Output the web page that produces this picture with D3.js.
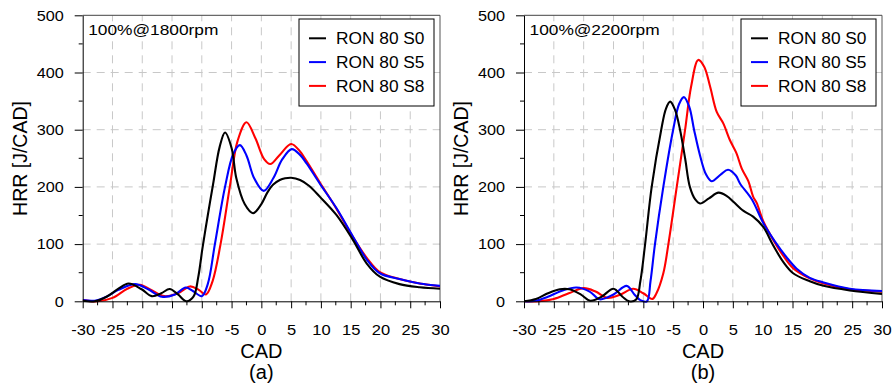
<!DOCTYPE html>
<html><head><meta charset="utf-8">
<script src="https://cdn.jsdelivr.net/npm/d3@7"></script>
<style>
body{margin:0;background:#fff}
svg{display:block}
text{font-family:"Liberation Sans",Arial,Helvetica,sans-serif;fill:#000}
</style>
</head><body><svg id="c" width="893" height="387"></svg>
<script>
// ---------------- data ----------------
const xTicks = [-30,-25,-20,-15,-10,-5,0,5,10,15,20,25,30];
const xMinor = [-27.5,-22.5,-17.5,-12.5,-7.5,-2.5,2.5,7.5,12.5,17.5,22.5,27.5];
const yTicks = [0,100,200,300,400,500];
const yMinor = [50,150,250,350,450];
const seriesNames = ["RON 80 S0","RON 80 S5","RON 80 S8"];
const seriesColors = ["#000000","#0000ff","#ff0000"];
const panelTitles = ["100%@1800rpm","100%@2200rpm"];
const panelLetters = ["(a)","(b)"];

// panel (a) 1800 rpm
const cadA_S0 = [-30,-28,-26,-24,-22.3,-20.1,-18.4,-16.8,-15.4,-14,-12.6,-11.4,-10.6,-9.9,-9,-8.1,-7,-6.1,-5,-4.2,-2.8,-1.4,0,1,2,3.1,4,5,6.5,8,9.8,12.6,15.4,17.7,19.9,23.2,26.6,30];
const hrrA_S0 = [1,0,8,22,31,21,9,14,21.5,12,0,8,42,92,150,205,270,295,268,215,170,154,170,190,204,212,215,216,212,202,183,151,107,66,43,30,24.5,22];
const cadA_S5 = [-30,-28,-26,-24,-21.2,-19,-16.7,-14.5,-12.7,-11.5,-10,-9,-7.8,-6.1,-4.7,-3.6,-2.5,-1.2,0.4,2,3.5,5.1,6.5,7.6,9.8,12.6,15.4,17.7,19.9,23.2,26.6,30];
const hrrA_S5 = [2,1,8,20,30,21,8,12,24,18,9,30,100,200,258,273,255,215,193,215,248,266,256,241,206,163,113,73,49,39,31,27];
const cadA_S8 = [-30,-27.5,-25,-22.5,-20.4,-18.5,-16.3,-14,-12,-10.5,-9.3,-8.2,-6.85,-5.3,-4,-2.5,-1,0.5,1.5,3,5,6.5,7.6,9.8,12.6,15.4,17.7,19.9,23.2,26.6,30];
const hrrA_S8 = [2,0,6,22,29,20,9,14,26,20,12,35,100,200,280,313,285,248,240,255,275,262,245,208,162,112,76,51,39,31,26];

// panel (b) 2200 rpm
const cadB_S0 = [-30,-28,-26,-24,-22.4,-20.5,-18.9,-17,-15,-13.5,-12.4,-11.2,-10.5,-9.7,-8.6,-7,-6.2,-5.5,-4.7,-3.85,-3,-2.2,-1.3,-0.5,1,2.6,4,5.1,6.8,8.4,10.1,11.8,13.5,15.1,17.9,20.2,24.6,30];
const hrrB_S0 = [0,4,14,21,21,12,1,8,22,8,0,3,35,100,200,300,337,349,335,300,250,200,178,171,180,190,184,174,158,148,130,97,68,49,35,27,19,13];
const cadB_S5 = [-30,-28,-26,-23.5,-21.2,-19,-17.3,-15,-12.8,-11.5,-10.5,-9.4,-8.8,-8.05,-6.65,-5,-4,-3.2,-2.3,-1.5,-0.5,0.5,1.45,3,4.2,5.5,6.2,8.2,10.1,12.1,14,15.7,17.9,20.2,24.6,30];
const hrrB_S5 = [0,1,8,19,24,17,3.5,12,27,12,2,0,35,100,200,300,345,357,340,300,255,222,210,222,230,220,206,178,137,104,77,57,41,33,22,18];
const cadB_S8 = [-30,-27.5,-25,-22.5,-20,-18,-16.1,-14,-11.7,-10,-8.5,-7.8,-6.65,-5.8,-4.4,-3,-2,-0.8,0.2,1.2,2.3,3.4,4.5,5.6,6.5,7.6,8.4,9,10.1,11.8,13.5,15.1,17.9,20.2,24.6,30];
const hrrB_S8 = [0,0,4,14,23,17,6,11,22,14,4,14,49,100,200,300,375,422,410,375,331,311,282,259,232,210,183,172,140,107,79,58,40,31,21,17];

const panelData = [
  [[cadA_S0,hrrA_S0],[cadA_S5,hrrA_S5],[cadA_S8,hrrA_S8]],
  [[cadB_S0,hrrB_S0],[cadB_S5,hrrB_S5],[cadB_S8,hrrB_S8]]
];

// ---------------- layout ----------------
const plotTop = 15.3, plotBottom = 301.3;
const panels = [{left:82.7,right:440},{left:524,right:882}];

const svg = d3.select("#c");
svg.append("rect").attr("width",893).attr("height",387).attr("fill","#fff");

panels.forEach((p,pi)=>{
  const g = svg.append("g");
  const x = d3.scaleLinear().domain([-30,30]).range([p.left,p.right]);
  const y = d3.scaleLinear().domain([0,500]).range([plotBottom,plotTop]);

  // grid
  g.append("g").selectAll("line").data(xTicks.slice(1,-1)).join("line")
    .attr("x1",d=>x(d)).attr("x2",d=>x(d)).attr("y1",y(0)).attr("y2",y(500))
    .attr("stroke","#c8c8c8").attr("stroke-width",1).attr("stroke-dasharray","8,6");
  g.append("g").selectAll("line").data(yTicks.slice(1,-1)).join("line")
    .attr("y1",d=>y(d)).attr("y2",d=>y(d)).attr("x1",x(-30)).attr("x2",x(30))
    .attr("stroke","#c8c8c8").attr("stroke-width",1).attr("stroke-dasharray","8,6");

  // frame top/right
  g.append("line").attr("x1",x(-30)).attr("x2",x(30)).attr("y1",y(500)).attr("y2",y(500))
    .attr("stroke","#444").attr("stroke-width",1);
  g.append("line").attr("x1",x(30)).attr("x2",x(30)).attr("y1",y(500)).attr("y2",y(0))
    .attr("stroke","#555").attr("stroke-width",1);

  // curves
  const clipId = "clip"+pi;
  svg.append("clipPath").attr("id",clipId).append("rect")
    .attr("x",x(-30)).attr("y",y(500)).attr("width",x(30)-x(-30)).attr("height",y(0)-y(500)+2);
  const line = d3.line().x(d=>x(d[0])).y(d=>y(d[1])).curve(d3.curveCatmullRom.alpha(0.5));
  const cg = g.append("g").attr("clip-path",`url(#${clipId})`);
  [2,1,0].forEach(si=>{
    const [cx,cy] = panelData[pi][si];
    const pts = cx.map((v,i)=>[v,cy[i]]);
    cg.append("path").attr("d",line(pts)).attr("fill","none")
      .attr("stroke",seriesColors[si]).attr("stroke-width",2.1).attr("stroke-linejoin","round");
  });

  // axes
  const xa = g.append("g").attr("transform",`translate(0,${plotBottom})`)
    .call(d3.axisBottom(x).tickValues(xTicks).tickSize(7).tickPadding(16).tickSizeOuter(0).tickFormat(d=>String(d)));
  xa.attr("font-family",null).attr("font-size",null);
  xa.selectAll("text").attr("font-size",15).attr("transform","scale(1.1,1)");
  xa.selectAll("line,path").attr("stroke","#000");
  g.append("g").selectAll("line").data(xMinor).join("line")
    .attr("x1",d=>x(d)).attr("x2",d=>x(d)).attr("y1",plotBottom).attr("y2",plotBottom+4)
    .attr("stroke","#000");

  const ya = g.append("g").attr("transform",`translate(${p.left},0)`)
    .call(d3.axisLeft(y).tickValues(yTicks).tickSize(8).tickPadding(11).tickSizeOuter(0).tickFormat(d=>String(d)));
  ya.attr("font-family",null).attr("font-size",null);
  ya.selectAll("text").attr("font-size",15).attr("x",-19/1.08).attr("transform","scale(1.08,1)");
  ya.selectAll("line,path").attr("stroke","#000");
  g.append("g").selectAll("line").data(yMinor).join("line")
    .attr("y1",d=>y(d)).attr("y2",d=>y(d)).attr("x1",p.left-4).attr("x2",p.left)
    .attr("stroke","#000");

  // axis labels
  const cxm = (p.left+p.right)/2;
  g.append("text").attr("x",cxm).attr("y",357.5).attr("text-anchor","middle")
    .attr("font-size",20).text("CAD");
  g.append("text").attr("x",cxm).attr("y",378.5).attr("text-anchor","middle")
    .attr("font-size",20).text(panelLetters[pi]);
  g.append("text").attr("transform",`translate(${p.left-55.7},158.5) rotate(-90)`)
    .attr("text-anchor","middle").attr("font-size",19.5).text("HRR [J/CAD]");

  // annotation
  g.append("text").attr("transform",`translate(${p.left+5.5},35) scale(1.14,1)`)
    .attr("font-size",15.2).text(panelTitles[pi]);

  // legend
  const lx = p.right-141, ly = 19;
  const lg = g.append("g");
  lg.append("rect").attr("x",lx).attr("y",ly).attr("width",135).attr("height",87)
    .attr("fill","#fff").attr("stroke","#000").attr("stroke-width",1);
  seriesNames.forEach((n,i)=>{
    const cy = 38.3 + i*23.8;
    lg.append("line").attr("x1",lx+10).attr("x2",lx+27).attr("y1",cy).attr("y2",cy)
      .attr("stroke",seriesColors[i]).attr("stroke-width",2);
    lg.append("text").attr("transform",`translate(${lx+37},${cy+5.6}) scale(1.11,1)`)
      .attr("font-size",15.6).text(n);
  });
});
</script>
</body></html>
